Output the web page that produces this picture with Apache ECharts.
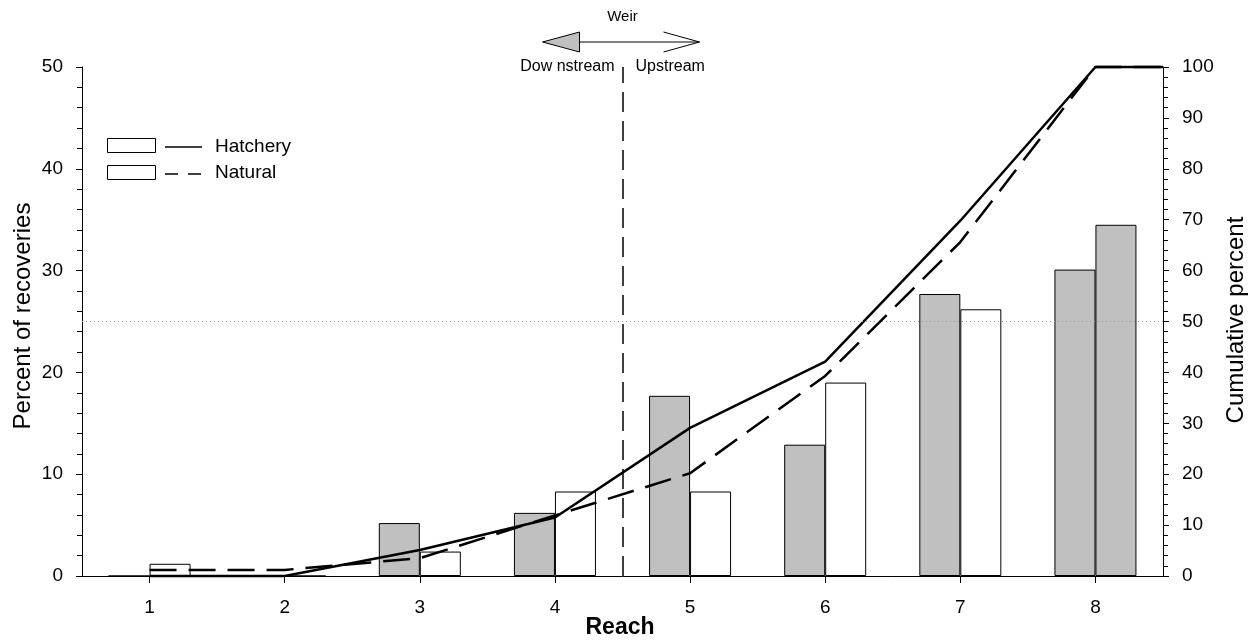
<!DOCTYPE html>
<html>
<head>
<meta charset="utf-8">
<script src="https://cdn.jsdelivr.net/npm/echarts@6/dist/echarts.min.js"></script>
<style>
html,body{margin:0;padding:0;background:#fff;}
#chart{width:1253px;height:643px;}
</style>
</head>
<body>
<div id="chart"></div>
<script>
// ---- data ----
const reaches = [1, 2, 3, 4, 5, 6, 7, 8];
const hatcheryPct = [0, 0, 5.2, 6.2, 17.7, 12.9, 27.7, 30.1];
const naturalPct = [1.2, 0, 2.4, 8.3, 8.3, 19.0, 26.2, 34.5];
const cumX = [1, 2, 3, 4, 5, 6, 7, 8, 8.5];
const hatcheryCum = [0, 0, 5.1, 11.5, 29.1, 42.1, 69.8, 100, 100];
const naturalCum = [1.2, 1.2, 3.5, 11.9, 20.2, 39.3, 65.6, 100, 100];
const leftTicks = [0, 10, 20, 30, 40, 50];
const rightTicks = [0, 10, 20, 30, 40, 50, 60, 70, 80, 90, 100];
const weirPosition = 4.5;
const referenceLevel = 25;
const greyNaturalReach = 8;

const FONT = '"Liberation Sans", Arial, sans-serif';
const GREY = '#c0c0c0';

const chart = echarts.init(document.getElementById('chart'), null, {renderer: 'canvas'});

function axisY(max, position, ticks) {
  return {
    type: 'value', min: 0, max: max, interval: ticks[1] - ticks[0], position: position,
    axisLine: {show: true, lineStyle: {color: '#000', width: 1}},
    axisTick: {show: true, length: 6, lineStyle: {color: '#000', width: 1}},
    minorTick: {show: true, splitNumber: 5, length: 5, lineStyle: {color: '#000', width: 1}},
    splitLine: {show: false},
    axisLabel: {color: '#000', fontSize: 19, fontFamily: FONT, margin: 19}
  };
}

const option = {
  animation: false,
  backgroundColor: '#fff',
  grid: {left: 82, right: 90, top: 67, bottom: 67},
  xAxis: {
    type: 'value', min: 0.5, max: 8.5,
    axisLine: {show: true, onZero: false, lineStyle: {color: '#000', width: 1}},
    axisTick: {show: true, length: 7, customValues: reaches, lineStyle: {color: '#000', width: 1}},
    axisLabel: {customValues: reaches, color: '#000', fontSize: 19, fontFamily: FONT, margin: 22},
    splitLine: {show: false}
  },
  yAxis: [axisY(50, 'left', leftTicks), axisY(100, 'right', rightTicks)],
  series: [
    {
      name: 'Hatchery', type: 'bar', xAxisIndex: 0, yAxisIndex: 0,
      barWidth: 41, barGap: '0%',
      itemStyle: {color: GREY, borderColor: '#000', borderWidth: 1},
      data: reaches.map((r, i) => [r, hatcheryPct[i]]),
      markLine: {
        silent: true, symbol: 'none', label: {show: false},
        lineStyle: {color: '#999', width: 1, type: [1, 3]},
        data: [{yAxis: referenceLevel}]
      },
      z: 2
    },
    {
      name: 'Natural', type: 'bar', xAxisIndex: 0, yAxisIndex: 0,
      barWidth: 41, barGap: '0%',
      itemStyle: {color: '#fff', borderColor: '#000', borderWidth: 1},
      data: reaches.map((r, i) => ({
        value: [r, naturalPct[i]],
        itemStyle: r === greyNaturalReach ? {color: GREY} : undefined
      })),
      z: 2
    },
    {
      name: 'Hatchery cumulative', type: 'line', xAxisIndex: 0, yAxisIndex: 1,
      symbol: 'none', clip: false,
      lineStyle: {color: '#000', width: 2.5, type: 'solid', join: 'round'},
      data: cumX.map((x, i) => [x, hatcheryCum[i]]),
      markLine: {
        silent: true, symbol: 'none', label: {show: false},
        lineStyle: {color: '#000', width: 1.5, type: [20, 9]},
        data: [{xAxis: weirPosition}]
      },
      z: 4
    },
    {
      name: 'Natural cumulative', type: 'line', xAxisIndex: 0, yAxisIndex: 1,
      symbol: 'none', clip: false,
      lineStyle: {color: '#000', width: 2.5, type: [27, 12]},
      data: cumX.map((x, i) => [x, naturalCum[i]]),
      z: 4
    }
  ]
};
chart.setOption(option);

const wx = chart.convertToPixel({xAxisIndex: 0}, weirPosition);
const txt = (x, y, text, size, align, weight) => ({
  type: 'text', x: x, y: y,
  style: {text: text, fill: '#000', fontSize: size, fontFamily: FONT, fontWeight: weight || 'normal',
          align: align, verticalAlign: 'middle'}
});

chart.setOption({
  graphic: [
    // Weir annotation
    txt(wx, 17, 'Weir', 15, 'center'),
    {type: 'line', shape: {x1: wx - 43, y1: 42, x2: wx + 77, y2: 42}, style: {stroke: '#000', lineWidth: 1.2}},
    {type: 'polygon', shape: {points: [[wx - 80, 42], [wx - 43, 32], [wx - 43, 52]]}, style: {fill: GREY, stroke: '#000', lineWidth: 1}},
    {type: 'polyline', shape: {points: [[wx + 41, 32], [wx + 77, 42], [wx + 41, 52]]}, style: {stroke: '#000', lineWidth: 1, fill: null}},
    txt(wx - 8, 67, 'Dow nstream', 16, 'right'),
    txt(wx + 13, 67, 'Upstream', 16, 'left'),
    // legend
    {type: 'rect', shape: {x: 107.5, y: 138.5, width: 48, height: 14}, style: {fill: '#fff', stroke: '#000', lineWidth: 1}},
    {type: 'rect', shape: {x: 107.5, y: 165.5, width: 48, height: 14}, style: {fill: '#fff', stroke: '#000', lineWidth: 1}},
    {type: 'line', shape: {x1: 165, y1: 147, x2: 202, y2: 147}, style: {stroke: '#000', lineWidth: 1.5}},
    {type: 'line', shape: {x1: 165, y1: 174, x2: 202, y2: 174}, style: {stroke: '#000', lineWidth: 1.5, lineDash: [13, 10]}},
    txt(215, 147, 'Hatchery', 19, 'left'),
    txt(215, 173, 'Natural', 19, 'left'),
    // axis titles
    Object.assign(txt(23, 316, 'Percent of recoveries', 24, 'center'), {rotation: Math.PI / 2}),
    Object.assign(txt(1236, 320, 'Cumulative percent', 24, 'center'), {rotation: Math.PI / 2}),
    txt(620, 628, 'Reach', 23, 'center', 'bold')
  ]
});
</script>
</body>
</html>
